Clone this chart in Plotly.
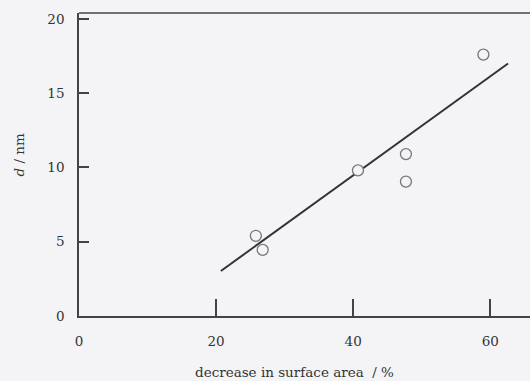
import plotly.graph_objects as go

# Data
surface_decrease = [25.8, 26.8, 40.7, 47.7, 47.7, 59.0]
d_nm = [5.4, 4.45, 9.8, 10.9, 9.05, 17.6]

fit_x = [20.7, 62.6]
fit_y = [3.03, 17.0]

x_ticks = [0, 20, 40, 60]
y_ticks = [0, 5, 10, 15, 20]

bg = "#f4f4f6"
font_family = "DejaVu Serif, Liberation Serif, serif"

fig = go.Figure()
fig.add_trace(go.Scatter(
    x=fit_x, y=fit_y, mode="lines",
    line=dict(color="#333333", width=2),
    showlegend=False, hoverinfo="skip"))
fig.add_trace(go.Scatter(
    x=surface_decrease, y=d_nm, mode="markers",
    marker=dict(symbol="circle", size=11, color=bg,
                line=dict(color="#777777", width=1.3)),
    showlegend=False))

fig.update_layout(
    width=530, height=381,
    margin=dict(l=79, r=0, t=13, b=65),
    paper_bgcolor=bg, plot_bgcolor=bg,
    font=dict(family=font_family, size=13, color="#333333"),
    xaxis=dict(range=[0, 65.8], tickvals=x_ticks, ticks="inside", ticklen=17,
               tickwidth=1.5, tickcolor="#444444", showline=True,
               linecolor="#444444", linewidth=1.5, showgrid=False,
               zeroline=False, ticklabelstandoff=12,
               tickfont=dict(size=13.5)),
    yaxis=dict(range=[0, 20.4], tickvals=y_ticks, ticks="inside", ticklen=10,
               tickwidth=1.5, tickcolor="#444444", showline=True,
               linecolor="#444444", linewidth=1.5, showgrid=False,
               zeroline=False, ticklabelstandoff=10,
               tickfont=dict(size=13.5)),
    shapes=[dict(type="line", xref="paper", yref="paper", x0=0, x1=1,
                 y0=1, y1=1, line=dict(color="#444444", width=1.5))],
    annotations=[
        dict(text="decrease in surface area  / %", xref="paper", yref="paper",
             x=0.477, y=-0.185, showarrow=False, xanchor="center",
             yanchor="middle", font=dict(size=13.5)),
        dict(text="<i>d</i> / nm", xref="paper", yref="paper",
             x=-0.133, y=0.53, showarrow=False, textangle=-90,
             xanchor="center", yanchor="middle", font=dict(size=13.5)),
    ],
)

fig.write_html("out.html")
